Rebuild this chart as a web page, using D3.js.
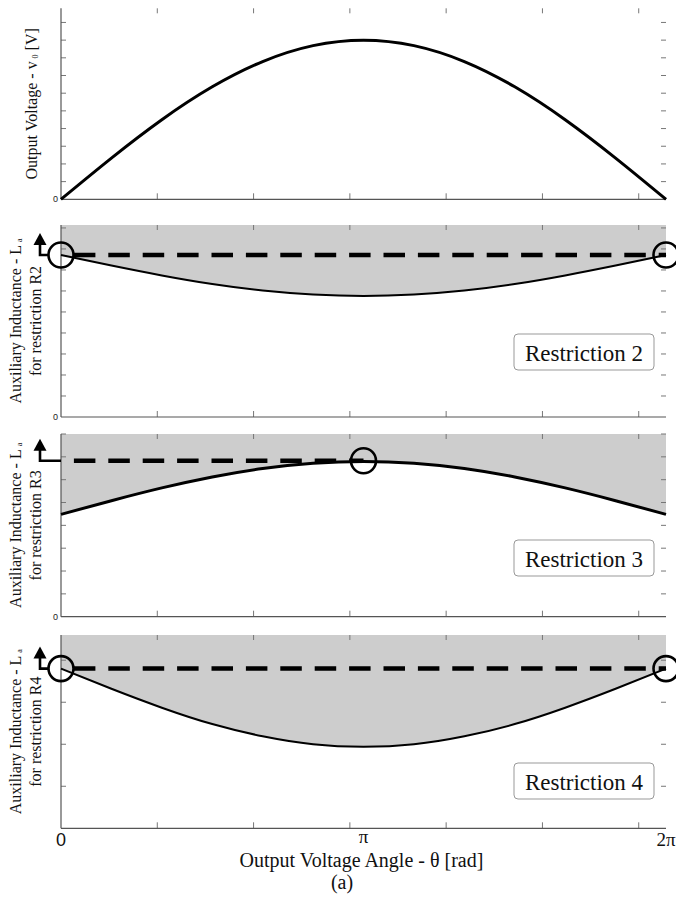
<!DOCTYPE html>
<html>
<head>
<meta charset="utf-8">
<script src="https://cdn.jsdelivr.net/npm/d3@7"></script>
<style>
  html, body { margin: 0; padding: 0; background: #fff; }
  svg { display: block; }
</style>
</head>
<body>
<svg id="chart" width="676" height="898"></svg>
<script>
// ---------------- data ----------------
const thetaDeg = [0, 30, 60, 90, 120, 150, 180, 210, 240, 270, 300, 330, 360];
const voltage  = [0, 2.33, 4.50, 6.36, 7.79, 8.69, 9.00, 8.69, 7.79, 6.36, 4.50, 2.33, 0];
const laR2     = [7.71, 7.21, 6.74, 6.33, 6.02, 5.83, 5.76, 5.83, 6.02, 6.33, 6.74, 7.21, 7.71];
const laR3     = [4.48, 5.08, 5.64, 6.12, 6.49, 6.72, 6.80, 6.72, 6.49, 6.12, 5.64, 5.08, 4.48];
const laR4     = [3.80, 3.32, 2.87, 2.48, 2.19, 2.00, 1.94, 2.00, 2.19, 2.48, 2.87, 3.32, 3.80];
const limitR2 = 7.71;
const limitR3 = 6.83;
const limitR4 = 3.80;
const xTicks = [1, 2, 3, 4, 5, 6];
const xLabels = [
  { v: 0, t: "0", sans: true },
  { v: Math.PI, t: "π", sans: false },
  { v: 2 * Math.PI, t: "2π", sans: false }
];
const legendLabels = ["Restriction 2", "Restriction 3", "Restriction 4"];

// ---------------- layout ----------------
const svg = d3.select("#chart");
const x = d3.scaleLinear().domain([0, 2 * Math.PI]).range([61, 666]);
const serif = "'Liberation Serif', 'Times New Roman', serif";
const sans = "'Liberation Sans', Arial, sans-serif";

const panels = [
  { top: 8.3, bottom: 199.3, max: 10.8, ticks: d3.range(1, 11), data: voltage, lw: 3,
    label: [["Output Voltage - v", "0", " [V]"]], zero: true },
  { top: 225, bottom: 417, max: 9.14, ticks: d3.range(1, 10), data: laR2, lw: 2,
    label: [["Auxiliary Inductance - L", "a", ""], ["for restriction R2", "", ""]], zero: true,
    limit: limitR2, limitEnd: 2 * Math.PI, circles: [0, 2 * Math.PI], legend: 0, legendTop: 334 },
  { top: 434, bottom: 616.7, max: 8, ticks: d3.range(1, 9), data: laR3, lw: 3,
    label: [["Auxiliary Inductance - L", "a", ""], ["for restriction R3", "", ""]], zero: true,
    limit: limitR3, limitEnd: Math.PI, circles: [Math.PI], legend: 1, legendTop: 540 },
  { top: 635, bottom: 828.3, max: 4.6, ticks: d3.range(1, 5), data: laR4, lw: 2,
    label: [["Auxiliary Inductance - L", "a", ""], ["for restriction R4", "", ""]], zero: false,
    limit: limitR4, limitEnd: 2 * Math.PI, circles: [0, 2 * Math.PI], legend: 2, legendTop: 763 }
];

const R = 12.5;

panels.forEach((p, i) => {
  const y = d3.scaleLinear().domain([0, p.max]).range([p.bottom, p.top]);
  const g = svg.append("g");
  const pts = thetaDeg.map((d, k) => ({ t: d * Math.PI / 180, v: p.data[k] }));

  // gray feasible region
  if (i > 0) {
    g.append("path")
      .datum(pts)
      .attr("fill", "#cdcdcd")
      .attr("d", d3.area().curve(d3.curveNatural)
        .x(d => x(d.t)).y0(y(p.max)).y1(d => y(d.v)));
  }

  // ticks: left (inward), right (inward), top & bottom (inward)
  const tickCol = "#777";
  p.ticks.forEach(t => {
    g.append("line").attr("x1", x(0)).attr("x2", x(0) + 5).attr("y1", y(t)).attr("y2", y(t))
      .attr("stroke", tickCol).attr("stroke-width", 1);
    g.append("line").attr("x1", x(2 * Math.PI) - 5).attr("x2", x(2 * Math.PI)).attr("y1", y(t)).attr("y2", y(t))
      .attr("stroke", tickCol).attr("stroke-width", 1);
  });
  xTicks.forEach(t => {
    g.append("line").attr("x1", x(t)).attr("x2", x(t)).attr("y1", y(p.max)).attr("y2", y(p.max) + 5)
      .attr("stroke", tickCol).attr("stroke-width", 1);
    g.append("line").attr("x1", x(t)).attr("x2", x(t)).attr("y1", y(0)).attr("y2", y(0) - 6)
      .attr("stroke", tickCol).attr("stroke-width", 1);
  });

  // axis lines (left and bottom)
  g.append("line").attr("x1", x(0)).attr("x2", x(0)).attr("y1", y(p.max)).attr("y2", y(0))
    .attr("stroke", "#555").attr("stroke-width", 1.2);
  g.append("line").attr("x1", x(0)).attr("x2", x(2 * Math.PI)).attr("y1", y(0)).attr("y2", y(0))
    .attr("stroke", "#555").attr("stroke-width", 1.2);

  // zero label
  if (p.zero) {
    g.append("text").attr("x", x(0) - 3).attr("y", y(0) + 3)
      .attr("text-anchor", "end").attr("font-family", sans).attr("font-size", 9)
      .attr("fill", "#222").text("0");
  }

  // curve
  g.append("path")
    .datum(pts)
    .attr("fill", "none").attr("stroke", "#000").attr("stroke-width", p.lw)
    .attr("d", d3.line().curve(d3.curveNatural).x(d => x(d.t)).y(d => y(d.v)));

  if (p.limit !== undefined) {
    const ly = y(p.limit);
    // dashed limit line
    g.append("line")
      .attr("x1", x(0)).attr("x2", x(p.limitEnd)).attr("y1", ly).attr("y2", ly)
      .attr("stroke", "#000").attr("stroke-width", 4.5)
      .attr("stroke-dasharray", "21.5 12.9").attr("stroke-dashoffset", 21.5);
    // circles
    p.circles.forEach(c => {
      g.append("circle").attr("cx", x(c)).attr("cy", ly).attr("r", R)
        .attr("fill", "none").attr("stroke", "#000").attr("stroke-width", 2.6);
    });
    // bent arrow
    const ax = x(0) - 21;
    const stubEnd = p.circles.includes(0) ? x(0) - R : x(0);
    g.append("path")
      .attr("d", `M${stubEnd},${ly} L${ax},${ly} L${ax},${ly - 11}`)
      .attr("fill", "none").attr("stroke", "#000").attr("stroke-width", 2.6);
    g.append("path")
      .attr("d", `M${ax - 6.5},${ly - 10} L${ax + 6.5},${ly - 10} L${ax},${ly - 22} Z`)
      .attr("fill", "#000");

    // legend box
    const lw = 140, lh = 36;
    const lx = x(2 * Math.PI) - 12 - lw;
    g.append("rect").attr("x", lx).attr("y", p.legendTop).attr("width", lw).attr("height", lh)
      .attr("rx", 4).attr("fill", "#fff").attr("stroke", "#999").attr("stroke-width", 1);
    g.append("text").attr("x", lx + lw / 2).attr("y", p.legendTop + 26.5)
      .attr("text-anchor", "middle").attr("font-family", serif).attr("font-size", 23)
      .attr("fill", "#111").text(legendLabels[p.legend]);
  }

  // y axis label
  const cy = (p.top + p.bottom) / 2;
  const lines = p.label;
  const baseXs = lines.length === 1 ? [37] : [20.5, 40.5];
  lines.forEach((ln, j) => {
    const t = g.append("text")
      .attr("transform", `translate(${baseXs[j]},${cy}) rotate(-90)`)
      .attr("text-anchor", "middle").attr("font-family", serif).attr("font-size", 16)
      .attr("fill", "#111");
    t.append("tspan").text(ln[0]);
    if (ln[1]) {
      t.append("tspan").attr("font-size", 8).attr("dx", 3).attr("dy", 1).text(ln[1]);
      if (ln[2]) t.append("tspan").attr("dy", -1).text(ln[2]);
    }
  });
});

// x tick labels
xLabels.forEach(l => {
  svg.append("text").attr("x", x(l.v)).attr("y", l.sans ? 846 : (l.t === "π" ? 843 : 846))
    .attr("text-anchor", "middle")
    .attr("font-family", l.sans ? sans : serif)
    .attr("font-size", l.sans ? 18 : 19)
    .attr("fill", "#111").text(l.t);
});

// x axis title and caption
svg.append("text").attr("x", x(Math.PI) - 2).attr("y", 866.5)
  .attr("text-anchor", "middle").attr("font-family", serif).attr("font-size", 20)
  .attr("fill", "#111").text("Output Voltage Angle - θ [rad]");
svg.append("text").attr("x", 342).attr("y", 889)
  .attr("text-anchor", "middle").attr("font-family", serif).attr("font-size", 20)
  .attr("fill", "#111").text("(a)");
</script>
</body>
</html>
